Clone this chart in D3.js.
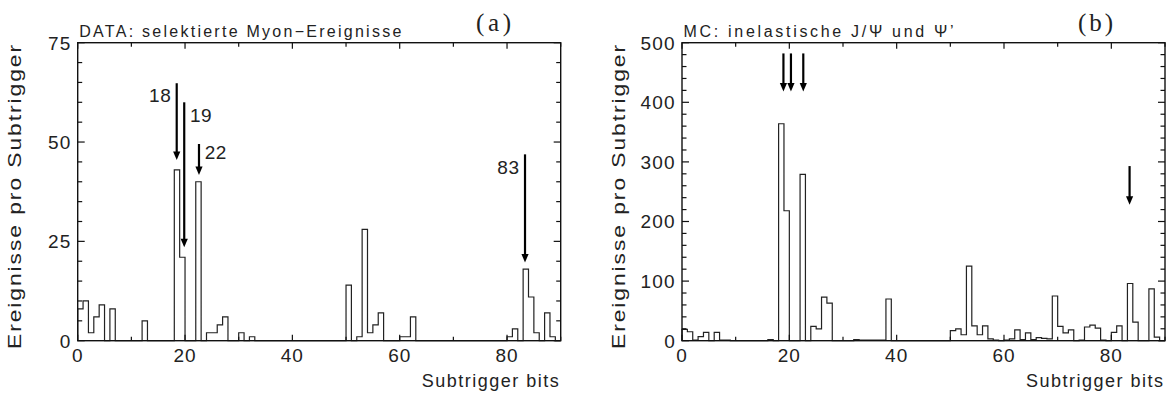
<!DOCTYPE html>
<html>
<head>
<meta charset="utf-8">
<script src="https://cdn.jsdelivr.net/npm/d3@7"></script>
<style>
  body { margin: 0; background: #fff; }
  svg { display: block; }
  text { font-family: "Liberation Sans", Arial, Helvetica, sans-serif; fill: #222; }
</style>
</head>
<body>
<svg id="chart" width="1173" height="396"></svg>
<script>
// Subtrigger bit numbers 0..89, one histogram bin each
const bits = d3.range(90);

// Selected muon events per subtrigger (data)
const dataCounts = [
  8, 10, 2, 6, 9, 0, 8, 0, 0, 0,
  0, 0, 5, 0, 0, 0, 0, 0, 43, 21,
  0, 0, 40, 0, 2, 2, 4, 6, 0, 0,
  2, 0, 1, 0, 0, 0, 0, 0, 0, 0,
  0, 0, 0, 0, 0, 0, 0, 0, 0, 0,
  14, 0, 1, 28, 2, 4, 7, 0, 0, 0,
  1, 1, 6, 0, 0, 0, 0, 0, 0, 0,
  0, 0, 0, 0, 0, 0, 0, 0, 0, 0,
  1, 3, 0, 18, 11, 2, 0, 7, 1, 0
];

// Inelastic J/psi and psi' Monte Carlo events per subtrigger
const mcCounts = [
  19, 15, 1, 7, 14, 0, 14, 1, 1, 0,
  0, 0, 0, 0, 0, 0, 2, 0, 364, 218,
  0, 0, 279, 0, 24, 20, 73, 63, 0, 0,
  0, 0, 2, 1, 1, 1, 1, 1, 70, 0,
  0, 0, 0, 0, 0, 0, 0, 0, 0, 0,
  17, 20, 10, 125, 25, 10, 25, 3, 1, 0,
  1, 3, 18, 2, 13, 2, 5, 4, 3, 75,
  24, 13, 18, 0, 1, 23, 26, 21, 1, 0,
  14, 25, 0, 96, 31, 0, 0, 87, 6, 0
];

// Axis tick values
const xTickValues = [0, 10, 20, 30, 40, 50, 60, 70, 80, 90];
const xTickLabels = [0, 20, 40, 60, 80];
const yTicksData = d3.range(0, 76, 5);
const yLabelsData = [0, 25, 50, 75];
const yTicksMC = d3.range(0, 501, 20);
const yLabelsMC = [0, 100, 200, 300, 400, 500];

// Marked subtriggers: arrow position (bit axis), arrow top and tip (count axis)
const arrowLabelsData = ["18", "19", "22", "83"];
const arrowXData = [18.45, 19.85, 22.6, 83.35];
const arrowTopData = [64.8, 60, 49.5, 46.9];
const arrowTipData = [45.5, 23.5, 41.7, 19.7];

const arrowXMC = [18.9, 20.3, 22.6, 83.4];
const arrowTopMC = [482, 482, 482, 293];
const arrowTipMC = [418, 418, 418, 228];

const titles = ["DATA: selektierte Myon\u2212Ereignisse", "MC: inelastische J/\u03A8 und \u03A8\u2019"];
const panelTags = ["(a)", "(b)"];
const yTitle = "Ereignisse pro Subtrigger";
const xTitle = "Subtrigger bits";

const svg = d3.select("#chart");
svg.append("rect").attr("width", 1173).attr("height", 396).attr("fill", "#fff");

const panels = [
  {
    left: 77.7, right: 560.7, top: 42.7, bottom: 340.7,
    yMax: 75, counts: dataCounts, yTicks: yTicksData, yLabels: yLabelsData, yMajor: 25,
    title: titles[0], titleLen: 322, tag: panelTags[0], tagX: 493.5,
    arrows: arrowXData.map((x, i) => ({ x, top: arrowTopData[i], tip: arrowTipData[i], label: arrowLabelsData[i] })),
    labelSide: ["left", "right", "right", "left"],
    labelDy: [18.4, 19.4, 15.3, 19.7]
  },
  {
    left: 682, right: 1165, top: 42.7, bottom: 340.7,
    yMax: 500, counts: mcCounts, yTicks: yTicksMC, yLabels: yLabelsMC, yMajor: 100,
    title: titles[1], titleLen: 270, tag: panelTags[1], tagX: 1095.5,
    arrows: arrowXMC.map((x, i) => ({ x, top: arrowTopMC[i], tip: arrowTipMC[i], label: null })),
    labelSide: [], labelDy: []
  }
];

panels.forEach(p => {
  const x = d3.scaleLinear().domain([0, 90]).range([p.left, p.right]);
  const y = d3.scaleLinear().domain([0, p.yMax]).range([p.bottom, p.top]);
  const g = svg.append("g");

  // histogram outline as a step line across all bins
  let path = d3.path();
  path.moveTo(x(0), y(0));
  bits.forEach(b => {
    path.lineTo(x(b), y(p.counts[b]));
    path.lineTo(x(b + 1), y(p.counts[b]));
  });
  path.lineTo(x(90), y(0));
  g.append("path")
    .attr("d", path.toString())
    .attr("fill", "none")
    .attr("stroke", "#222")
    .attr("stroke-width", 1.2);

  // frame
  g.append("rect")
    .attr("x", p.left).attr("y", p.top)
    .attr("width", p.right - p.left).attr("height", p.bottom - p.top)
    .attr("fill", "none").attr("stroke", "#111").attr("stroke-width", 1.4);

  // inward ticks on all four sides
  const ticks = g.append("g").attr("stroke", "#111").attr("stroke-width", 1.2);
  xTickValues.forEach(v => {
    const len = v % 20 === 0 ? 6 : 4;
    ticks.append("line").attr("x1", x(v)).attr("x2", x(v)).attr("y1", p.bottom).attr("y2", p.bottom - len);
    ticks.append("line").attr("x1", x(v)).attr("x2", x(v)).attr("y1", p.top).attr("y2", p.top + len);
  });
  p.yTicks.forEach(v => {
    const len = v % p.yMajor === 0 ? 7 : 4.5;
    ticks.append("line").attr("x1", p.left).attr("x2", p.left + len).attr("y1", y(v)).attr("y2", y(v));
    ticks.append("line").attr("x1", p.right).attr("x2", p.right - len).attr("y1", y(v)).attr("y2", y(v));
  });

  // tick labels
  xTickLabels.forEach(v => {
    g.append("text").attr("x", x(v)).attr("y", 362)
      .attr("text-anchor", "middle").attr("font-size", 19).attr("letter-spacing", 1)
      .text(v);
  });
  p.yLabels.forEach(v => {
    g.append("text").attr("x", p.left - 6).attr("y", y(v)).attr("dy", "0.36em")
      .attr("text-anchor", "end").attr("font-size", 19).attr("letter-spacing", 1.3)
      .text(v);
  });

  // axis titles
  g.append("text")
    .attr("transform", `translate(${p.left - 56.7},196) rotate(-90)`)
    .attr("text-anchor", "middle").attr("font-size", 18.5)
    .style("letter-spacing", "1.6px")
    .attr("textLength", 306).attr("lengthAdjust", "spacingAndGlyphs")
    .text(yTitle);
  g.append("text")
    .attr("x", p.right - 139).attr("y", 387)
    .attr("font-size", 18)
    .attr("textLength", 137).attr("lengthAdjust", "spacing")
    .text(xTitle);

  // panel title and tag
  g.append("text")
    .attr("x", p.left + 1.6).attr("y", 37.3)
    .attr("font-size", 16)
    .attr("textLength", p.titleLen).attr("lengthAdjust", "spacing")
    .text(p.title);
  g.append("text")
    .attr("x", p.tagX - 17.5).attr("y", 30.7)
    .style("font-family", "'Liberation Serif', 'DejaVu Serif', serif")
    .attr("font-size", 25)
    .attr("textLength", 35).attr("lengthAdjust", "spacing")
    .text(p.tag);

  // arrows marking the selected subtriggers
  const headLen = 8.5, headHalf = 3.6;
  p.arrows.forEach((a, i) => {
    const ax = x(a.x), yTop = y(a.top), yTip = y(a.tip);
    g.append("line")
      .attr("x1", ax).attr("x2", ax).attr("y1", yTop).attr("y2", yTip - headLen + 1)
      .attr("stroke", "#000").attr("stroke-width", 2.2);
    g.append("path")
      .attr("d", `M${ax - headHalf},${yTip - headLen}L${ax + headHalf},${yTip - headLen}L${ax},${yTip}Z`)
      .attr("fill", "#000");
    if (a.label) {
      const side = p.labelSide[i];
      g.append("text")
        .attr("x", side === "left" ? ax - 5.5 : ax + 5.8)
        .attr("y", yTop + p.labelDy[i])
        .attr("text-anchor", side === "left" ? "end" : "start")
        .attr("font-size", 19).attr("letter-spacing", 0.5)
        .text(a.label);
    }
  });
});
</script>
</body>
</html>
